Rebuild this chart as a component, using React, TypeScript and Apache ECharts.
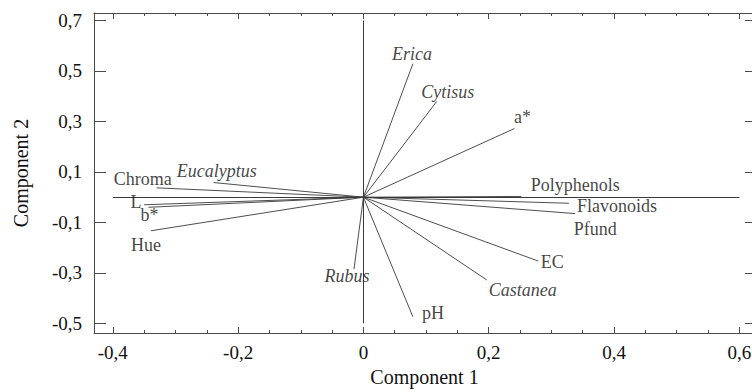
import React, { useEffect, useRef } from "react";
import * as echarts from "echarts";

const variables = ["Erica", "Cytisus", "a*", "Polyphenols", "Flavonoids", "Pfund", "EC", "Castanea", "pH", "Rubus", "Hue", "b*", "L", "Chroma", "Eucalyptus"];
const component1 = [0.079, 0.117, 0.241, 0.252, 0.328, 0.338, 0.279, 0.197, 0.079, -0.015, -0.339, -0.343, -0.35, -0.33, -0.239];
const component2 = [0.529, 0.379, 0.272, 0.003, -0.024, -0.065, -0.253, -0.328, -0.474, -0.285, -0.133, -0.04, -0.03, 0.037, 0.058];
const italicNames = ["Erica", "Cytisus", "Castanea", "Rubus", "Eucalyptus"];
const xTicks = [-0.4, -0.2, 0, 0.2, 0.4, 0.6];
const xMinorTicks = [-0.35, -0.3, -0.25, -0.15, -0.1, -0.05, 0.05, 0.1, 0.15, 0.25, 0.3, 0.35, 0.45, 0.5, 0.55];
const yTicks = [-0.5, -0.3, -0.1, 0.1, 0.3, 0.5, 0.7];

// label layout: pixel offsets of label centres from vector tips
const labelOffsets: Record<string, [number, number]> = {
  Erica: [-1, -10],
  Cytisus: [11, -10],
  "a*": [8, -12],
  Polyphenols: [54, -11],
  Flavonoids: [48, 3],
  Pfund: [20, 15],
  EC: [14, 1],
  Castanea: [36, 10],
  pH: [20, -4],
  Rubus: [-7, 7],
  Hue: [-5, 14],
  "b*": [1, 8],
  L: [-8, -3],
  Chroma: [-14, -9],
  Eucalyptus: [3, -12],
};

const FONT = "'Liberation Serif', 'Times New Roman', serif";
const AXIS_COLOR = "#4a4a4a";
const fmt = (v: number) => (v === 0 ? "0" : String(Math.round(v * 10) / 10).replace(".", ","));

export default function App() {
  const ref = useRef<HTMLDivElement>(null);
  useEffect(() => {
    if (!ref.current) return;
    const chart = echarts.init(ref.current, undefined, { renderer: "svg" });
    const yMin = -0.538;
    const yMax = 0.7297;
    const xMin = -0.43;
    const xMax = 0.625;
    const baseX = {
      type: "value" as const,
      min: xMin,
      max: xMax,
      splitLine: { show: false },
    };
    const baseY = {
      type: "value" as const,
      min: yMin,
      max: yMax,
      splitLine: { show: false },
    };
    const vectorLines = variables.map((n, i) => ({ coords: [[0, 0], [component1[i], component2[i]]] }));
    const crossLines = [
      { coords: [[xTicks[0], 0], [xTicks[xTicks.length - 1], 0]] },
      { coords: [[0, yTicks[0]], [0, yTicks[yTicks.length - 1]]] },
    ];
    const labelData = variables.map((n, i) => ({
      name: n,
      value: [component1[i], component2[i]],
      label: {
        offset: labelOffsets[n] || [0, 0],
        fontStyle: italicNames.includes(n) ? "italic" : "normal",
      },
    }));
    const line = { show: true, onZero: false, lineStyle: { color: AXIS_COLOR, width: 1 } };
    chart.setOption({
      animation: false,
      backgroundColor: "#ffffff",
      textStyle: { fontFamily: FONT },
      grid: { left: 94, top: 13, right: 5, bottom: 50.5 },
      xAxis: [
        {
          ...baseX,
          position: "bottom",
          name: "Component 1",
          nameLocation: "middle",
          nameGap: 34,
          nameTextStyle: { fontFamily: FONT, fontSize: 20, color: "#111" },
          axisLine: line,
          axisTick: { show: true, inside: true, length: 6, customValues: xTicks, lineStyle: { color: AXIS_COLOR } },
          axisLabel: { customValues: xTicks, formatter: fmt, fontFamily: FONT, fontSize: 19, color: "#111", margin: 10 },
        },
        {
          ...baseX,
          position: "bottom",
          axisLine: { show: false, onZero: false },
          axisTick: { show: true, inside: true, length: 3, customValues: xMinorTicks, lineStyle: { color: AXIS_COLOR } },
          axisLabel: { show: false },
        },
        {
          ...baseX,
          position: "top",
          axisLine: line,
          axisTick: { show: true, inside: true, length: 6, customValues: xTicks, lineStyle: { color: AXIS_COLOR } },
          axisLabel: { show: false },
        },
        {
          ...baseX,
          position: "top",
          axisLine: { show: false, onZero: false },
          axisTick: { show: true, inside: true, length: 3, customValues: xMinorTicks, lineStyle: { color: AXIS_COLOR } },
          axisLabel: { show: false },
        },
      ],
      yAxis: [
        {
          ...baseY,
          position: "left",
          name: "Component 2",
          nameLocation: "middle",
          nameGap: 63,
          nameTextStyle: { fontFamily: FONT, fontSize: 20, color: "#111" },
          axisLine: line,
          axisTick: { show: true, inside: true, length: 12, customValues: yTicks, lineStyle: { color: AXIS_COLOR } },
          axisLabel: { customValues: yTicks, formatter: fmt, fontFamily: FONT, fontSize: 19, color: "#111", margin: 12 },
        },
        {
          ...baseY,
          position: "right",
          axisLine: line,
          axisTick: { show: true, inside: true, length: 10, customValues: yTicks, lineStyle: { color: AXIS_COLOR } },
          axisLabel: { show: false },
        },
      ],
      series: [
        {
          type: "lines",
          coordinateSystem: "cartesian2d",
          xAxisIndex: 0,
          yAxisIndex: 0,
          polyline: false,
          silent: true,
          lineStyle: { color: "#3a3a3a", width: 1, opacity: 1 },
          data: crossLines,
        },
        {
          type: "lines",
          coordinateSystem: "cartesian2d",
          xAxisIndex: 0,
          yAxisIndex: 0,
          polyline: false,
          silent: true,
          lineStyle: { color: "#3a3a3a", width: 0.9, opacity: 1 },
          data: vectorLines,
        },
        {
          type: "scatter",
          xAxisIndex: 0,
          yAxisIndex: 0,
          symbolSize: 0.1,
          itemStyle: { color: "rgba(0,0,0,0)" },
          silent: true,
          label: {
            show: true,
            position: "inside",
            align: "center",
            verticalAlign: "middle",
            formatter: "{b}",
            fontFamily: FONT,
            fontSize: 18,
            color: "#111",
          },
          data: labelData,
        },
      ],
    });
    return () => chart.dispose();
  }, []);
  return (
    <div
      ref={ref}
      style={{ position: "fixed", left: 0, top: 0, width: 760, height: 392, background: "#fff" }}
    />
  );
}
